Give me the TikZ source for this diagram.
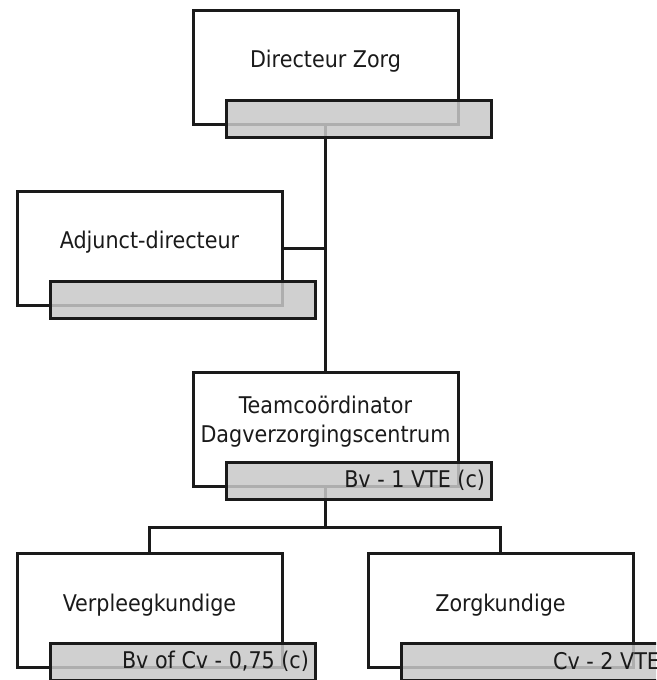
\documentclass[tikz,border=0pt]{standalone}
\usepackage{fontspec}
\setmainfont{DejaVu Sans Condensed}
\definecolor{ink}{RGB}{26,26,26}
\definecolor{tagfill}{RGB}{200,200,200}
\begin{document}
\begin{tikzpicture}[x=1pt,y=-1pt,
  every node/.style={outer sep=0pt},
  rolebox/.style={draw=ink, line width=3pt, fill=white, minimum width=265pt, minimum height=114pt, inner sep=0pt},
  tagbox/.style={draw=ink, line width=3pt, fill=tagfill, fill opacity=0.85, draw opacity=1, minimum width=265pt, minimum height=37pt, inner sep=0pt, anchor=north west},
  roletext/.style={text=ink, inner sep=0pt, align=center, font=\fontsize{23}{29}\selectfont},
  tagtext/.style={text=ink, inner sep=0pt, anchor=east, font=\fontsize{23}{29}\selectfont},
  link/.style={draw=ink, line width=3pt}
]
\useasboundingbox (0,0) rectangle (656,680);
\clip (0,0) rectangle (656,680);

% role boxes
\node[rolebox] (dz) at (325.5,67.5) {};
\node[rolebox] (ad) at (149.5,248) {};
\node[rolebox] (tc) at (325.5,429) {};
\node[rolebox] (vp) at (149.5,610) {};
\node[rolebox] (zk) at (500.5,610) {};

% reporting lines
\coordinate (spine) at (dz.south |- ad.east);
\coordinate (fork) at (tc.south |- 0,527);
\draw[link] (dz.south) -- (tc.north);
\draw[link] (ad.east) -- (spine);
\draw[link] (tc.south) -- (fork);
\draw[link] (vp.north) |- (fork) -| (zk.north);

% grey tag strips along the bottom of each box
\node[tagbox] (dzg) at ([xshift=33pt,yshift=24pt]dz.south west) {};
\node[tagbox] (adg) at ([xshift=33pt,yshift=24pt]ad.south west) {};
\node[tagbox] (tcg) at ([xshift=33pt,yshift=24pt]tc.south west) {};
\node[tagbox] (vpg) at ([xshift=33pt,yshift=24pt]vp.south west) {};
\node[tagbox] (zkg) at ([xshift=33pt,yshift=24pt]zk.south west) {};

% titles
\node[roletext] (dzt) at ([yshift=-51pt]dz.north) {Directeur Zorg};
\node[roletext] (adt) at ([yshift=-51pt]ad.north) {Adjunct-directeur};
\node[roletext] (tct) at ([yshift=-50pt]tc.north) {Teamcoördinator\\Dagverzorgingscentrum};
\node[roletext] (vpt) at ([yshift=-52pt]vp.north) {Verpleegkundige};
\node[roletext] (zkt) at ([yshift=-52pt]zk.north) {Zorgkundige};

% staffing tags
\node[tagtext] (tcl) at ([xshift=-6pt]tcg.east) {Bv - 1 VTE (c)};
\node[tagtext] (vpl) at ([xshift=-6pt]vpg.east) {Bv of Cv - 0,75 (c)};
\node[tagtext] (zkl) at ([xshift=-6pt]zkg.east) {Cv - 2 VTE};
\end{tikzpicture}
\end{document}
